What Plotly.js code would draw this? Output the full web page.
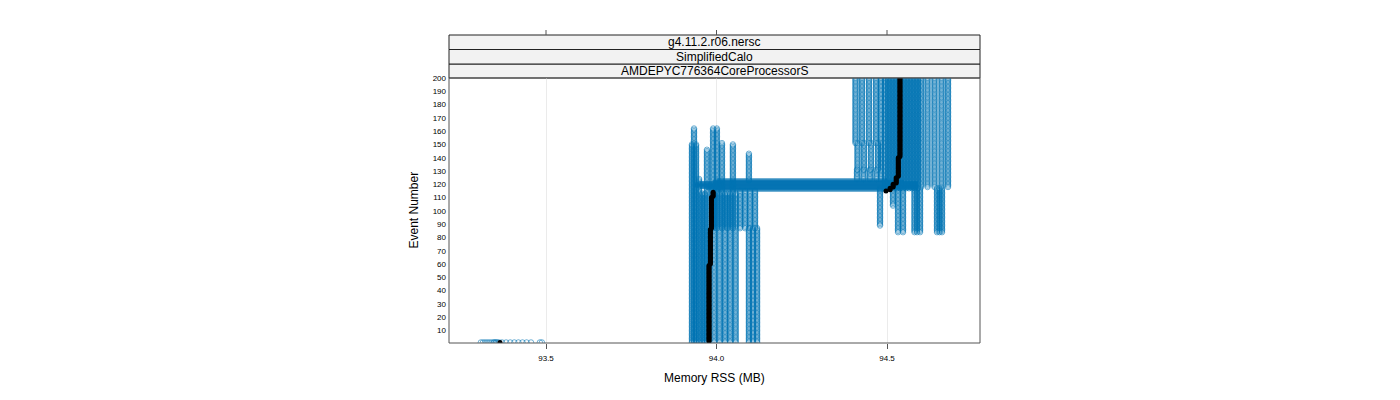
<!DOCTYPE html>
<html>
<head>
<meta charset="utf-8">
<script src="https://cdn.plot.ly/plotly-3.0.1.min.js"></script>
<style>html,body{margin:0;padding:0;background:#fff;}#chart{width:1400px;height:400px;}</style>
</head>
<body>
<div id="chart"></div>
<script>
// Samples taken while processing event 1 (start-up growth)
const bottomMem = [93.309, 93.315, 93.321, 93.327, 93.333, 93.339, 93.345, 93.348, 93.351, 93.354, 93.357, 93.362,
                   93.371, 93.383, 93.395, 93.407, 93.419, 93.431, 93.443, 93.456, 93.482, 93.488];

// Columns: memory stays constant while events progress (memory MB, first event, last event)
const colMem  = [93.928, 93.934, 93.940, 93.949, 93.958, 93.966, 93.972, 93.993, 94.009, 94.025, 94.040, 94.056,
                 93.990, 94.001, 94.016, 94.032, 94.048,
                 94.069, 94.084, 94.098, 94.113,
                 94.095, 94.107, 94.119,
                 94.095,
                 94.4076, 94.4267, 94.4472, 94.4677, 94.4824,
                 94.4135, 94.4326, 94.4531, 94.4736,
                 94.412, 94.431, 94.450, 94.469,
                 94.4941, 94.5029, 94.5117, 94.5205, 94.5293, 94.5381, 94.5469, 94.5557, 94.5645, 94.5733, 94.5821, 94.5909,
                 94.5997, 94.6188, 94.6393, 94.6598, 94.6789,
                 94.4795, 94.5176, 94.5323, 94.5469, 94.5806, 94.5880, 94.5968, 94.6466, 94.6540, 94.6613];
const colFrom = [1, 1, 1, 1, 1, 1, 1, 1, 1, 1, 1, 1,
                 87, 87, 87, 87, 87,
                 87, 87, 87, 87,
                 1, 1, 1,
                 123,
                 151, 151, 151, 151, 124,
                 131, 131, 131, 131,
                 124, 124, 124, 124,
                 117, 117, 117, 117, 117, 117, 117, 117, 117, 117, 117, 117,
                 118, 118, 118, 118, 118,
                 89, 104, 84, 84, 84, 84, 84, 84, 84, 84];
const colTo   = [150, 162, 150, 124, 113, 113, 146, 113, 113, 113, 113, 113,
                 162, 162, 151, 113, 150,
                 115, 115, 115, 115,
                 87, 87, 87,
                 143,
                 200, 200, 200, 200, 200,
                 151, 151, 151, 151,
                 131, 131, 131, 131,
                 200, 200, 200, 200, 200, 200, 200, 200, 200, 200, 200, 200,
                 200, 200, 200, 200, 200,
                 117, 117, 117, 117, 117, 117, 117, 117, 117, 117];

// Horizontal band: memory growth while processing a single event (event, min MB, max MB)
const bandEvent = [116, 117, 118, 119, 120, 121, 122, 123];
const bandMin   = [93.990, 93.970, 93.950, 93.935, 93.935, 93.950, 93.990, 94.000];
const bandMax   = [94.500, 94.590, 94.590, 94.590, 94.590, 94.590, 94.550, 94.500];

// Reference (black) series: memory MB held over event ranges
const medMem  = [93.365, 93.978, 93.982, 93.985, 93.990, 94.497, 94.509, 94.518, 94.527, 94.533, 94.538];
const medFrom = [1, 2, 60, 87, 111, 115, 116, 118, 121, 126, 141];
const medTo   = [1, 59, 86, 110, 114, 115, 117, 120, 125, 140, 200];

// Axis ticks
const xTickVals = [93.5, 94.0, 94.5];
const xTickText = ['93.5', '94.0', '94.5'];
const yTickVals = [10,20,30,40,50,60,70,80,90,100,110,120,130,140,150,160,170,180,190,200];
const stripLabels = ['g4.11.2.r06.nersc', 'SimplifiedCalo', 'AMDEPYC776364CoreProcessorS'];

// Expand to samples
const bx = [], by = [];
bottomMem.forEach(m => { bx.push(m); by.push(1); });
for (let i = 0; i < colMem.length; i++) {
  for (let e = colFrom[i]; e <= colTo[i]; e++) { bx.push(colMem[i]); by.push(e); }
}
const lx = [], ly = [];
for (let i = 0; i < bandEvent.length; i++) {
  lx.push(bandMin[i], bandMax[i], null); ly.push(bandEvent[i], bandEvent[i], null);
}
const mx = [], my = [];
for (let i = 0; i < medMem.length; i++) {
  for (let e = medFrom[i]; e <= medTo[i]; e++) { mx.push(medMem[i]); my.push(e); }
}

const blue = 'rgba(0,114,178,0.55)';
const traces = [
  {x: lx, y: ly, type: 'scatter', mode: 'lines', line: {color: 'rgba(0,114,178,0.75)', width: 4}, hoverinfo: 'skip', showlegend: false},
  {x: bx, y: by, type: 'scatter', mode: 'markers',
   marker: {symbol: 'circle-open', size: 5.5, color: blue, line: {width: 1, color: blue}}, showlegend: false},
  {x: mx, y: my, type: 'scatter', mode: 'markers',
   marker: {symbol: 'circle', size: 5, color: '#000'}, showlegend: false}
];

const H = 265; // panel height px
const sp = v => 1 + v / H;
const shapes = [
  {type: 'rect', xref: 'paper', yref: 'paper', x0: 0, x1: 1, y0: sp(0), y1: sp(14), fillcolor: '#f2f2f2', line: {color: '#222', width: 1}, layer: 'below'},
  {type: 'rect', xref: 'paper', yref: 'paper', x0: 0, x1: 1, y0: sp(14), y1: sp(28.5), fillcolor: '#f2f2f2', line: {color: '#222', width: 1}, layer: 'below'},
  {type: 'rect', xref: 'paper', yref: 'paper', x0: 0, x1: 1, y0: sp(28.5), y1: sp(43), fillcolor: '#f2f2f2', line: {color: '#222', width: 1}, layer: 'below'},
  {type: 'rect', xref: 'paper', yref: 'paper', x0: 0, x1: 1, y0: 0, y1: 1, line: {color: '#555', width: 1}}
];
xTickVals.forEach(v => shapes.push({type: 'line', xref: 'x', yref: 'paper', x0: v, x1: v, y0: sp(43), y1: sp(48), line: {color: '#555', width: 1}}));

const annotations = [
  {text: stripLabels[0], xref: 'paper', yref: 'paper', x: 0.5, y: sp(35.75), yanchor: 'middle', showarrow: false, font: {size: 12, color: '#000'}},
  {text: stripLabels[1], xref: 'paper', yref: 'paper', x: 0.5, y: sp(21.25), yanchor: 'middle', showarrow: false, font: {size: 12, color: '#000'}},
  {text: stripLabels[2], xref: 'paper', yref: 'paper', x: 0.5, y: sp(7), yanchor: 'middle', showarrow: false, font: {size: 12, color: '#000'}},
  {text: 'Memory RSS (MB)', xref: 'paper', yref: 'paper', x: 0.5, y: -35 / H, yanchor: 'middle', showarrow: false, font: {size: 12, color: '#000'}},
  {text: 'Event Number', xref: 'paper', yref: 'paper', x: -36 / 531, y: 0.5, textangle: -90, xanchor: 'center', yanchor: 'middle', showarrow: false, font: {size: 12, color: '#000'}}
];

const layout = {
  width: 1400, height: 400,
  margin: {l: 449, r: 420, t: 78, b: 57, pad: 0},
  paper_bgcolor: '#fff', plot_bgcolor: '#fff',
  font: {family: 'Liberation Sans, Arial, sans-serif', size: 8, color: '#000'},
  showlegend: false,
  xaxis: {range: [93.2155, 94.7727], tickvals: xTickVals, ticktext: xTickText, ticks: 'outside', ticklen: 5,
          tickcolor: '#555', showgrid: true, gridcolor: '#ebebeb', gridwidth: 1, zeroline: false, showline: false,
          tickfont: {size: 8, color: '#000'}, ticklabelstandoff: 2},
  yaxis: {range: [0.6, 200], tickvals: yTickVals, ticks: '', showgrid: false, zeroline: false, showline: false,
          tickfont: {size: 8, color: '#000'}, ticklabelstandoff: 2},
  shapes: shapes,
  annotations: annotations
};

Plotly.newPlot('chart', traces, layout, {displayModeBar: false, staticPlot: true});
</script>
</body>
</html>
